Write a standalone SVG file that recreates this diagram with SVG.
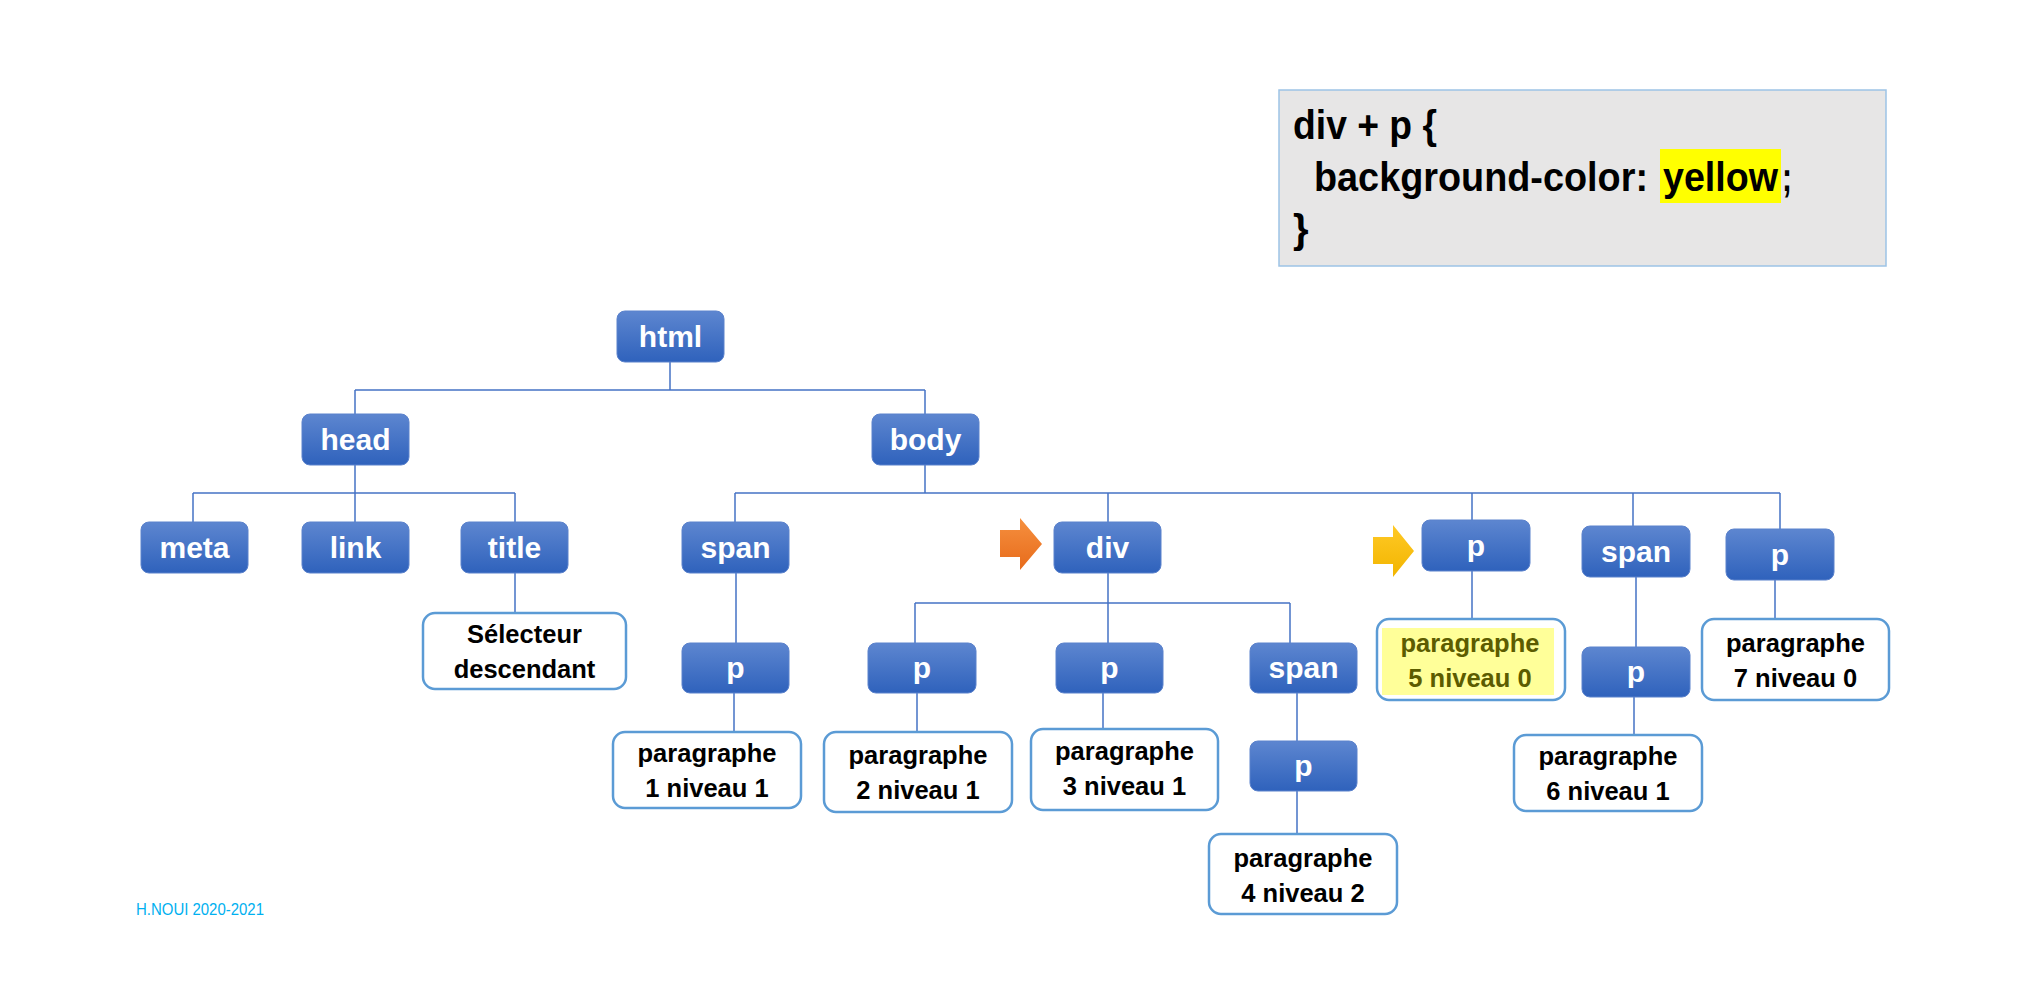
<svg xmlns="http://www.w3.org/2000/svg" width="2028" height="1000" viewBox="0 0 2028 1000">
<style>
.n rect{fill:url(#gb);stroke:#5b82cc;stroke-width:1}
.n text{font-family:"Liberation Sans",Arial,sans-serif;font-weight:bold;font-size:30px;fill:#fff;text-anchor:middle}
.b rect{fill:#fff;stroke:#5b9bd5;stroke-width:2.5}
.b text{font-family:"Liberation Sans",Arial,sans-serif;font-weight:bold;font-size:25.5px;fill:#000;text-anchor:middle}
.c{font-family:"Liberation Sans",Arial,sans-serif;font-weight:bold;font-size:40px;fill:#000}
#links line{stroke:#4472c4;stroke-width:1.5}
</style>
<defs>
<linearGradient id="gb" x1="0" y1="0" x2="0" y2="1">
<stop offset="0" stop-color="#5d86d0"/>
<stop offset="1" stop-color="#2f62bc"/>
</linearGradient>
<linearGradient id="go" x1="0" y1="0" x2="0" y2="1">
<stop offset="0" stop-color="#f6903f"/>
<stop offset="1" stop-color="#e76b1b"/>
</linearGradient>
<linearGradient id="gy" x1="0" y1="0" x2="0" y2="1">
<stop offset="0" stop-color="#ffc926"/>
<stop offset="1" stop-color="#f2b500"/>
</linearGradient>
</defs>
<rect width="2028" height="1000" fill="#fff"/>

<g id="code">
<rect x="1279" y="90" width="607" height="176" fill="#e7e6e6" stroke="#9dc3e6" stroke-width="1.5"/>
<rect x="1660" y="149" width="121" height="54" fill="#ffff00"/>
<text class="c" x="1293" y="139" textLength="144" lengthAdjust="spacingAndGlyphs">div + p {</text>
<text class="c" x="1314" y="191" textLength="334" lengthAdjust="spacingAndGlyphs">background-color:</text>
<text class="c" x="1663" y="191" textLength="115" lengthAdjust="spacingAndGlyphs">yellow</text>
<text class="c" x="1782" y="191" textLength="10" lengthAdjust="spacingAndGlyphs">;</text>
<text class="c" x="1293" y="243">}</text>
</g>

<g id="links">
<line x1="670" y1="362" x2="670" y2="390"/>
<line x1="355" y1="390" x2="925" y2="390"/>
<line x1="355" y1="390" x2="355" y2="414"/>
<line x1="925" y1="390" x2="925" y2="414"/>
<line x1="355" y1="465" x2="355" y2="493"/>
<line x1="193" y1="493" x2="515" y2="493"/>
<line x1="193" y1="493" x2="193" y2="522"/>
<line x1="355" y1="493" x2="355" y2="522"/>
<line x1="515" y1="493" x2="515" y2="522"/>
<line x1="515" y1="573" x2="515" y2="613"/>
<line x1="925" y1="465" x2="925" y2="493"/>
<line x1="735" y1="493" x2="1780" y2="493"/>
<line x1="735" y1="493" x2="735" y2="522"/>
<line x1="1108" y1="493" x2="1108" y2="522"/>
<line x1="1472" y1="493" x2="1472" y2="520"/>
<line x1="1633" y1="493" x2="1633" y2="526"/>
<line x1="1780" y1="493" x2="1780" y2="529"/>
<line x1="736" y1="573" x2="736" y2="643"/>
<line x1="734" y1="693" x2="734" y2="732"/>
<line x1="1108" y1="573" x2="1108" y2="603"/>
<line x1="915" y1="603" x2="1290" y2="603"/>
<line x1="915" y1="603" x2="915" y2="643"/>
<line x1="1108" y1="603" x2="1108" y2="643"/>
<line x1="1290" y1="603" x2="1290" y2="643"/>
<line x1="917" y1="693" x2="917" y2="732"/>
<line x1="1103" y1="693" x2="1103" y2="729"/>
<line x1="1297" y1="693" x2="1297" y2="741"/>
<line x1="1297" y1="791" x2="1297" y2="834"/>
<line x1="1472" y1="571" x2="1472" y2="619"/>
<line x1="1636" y1="577" x2="1636" y2="647"/>
<line x1="1634" y1="697" x2="1634" y2="735"/>
<line x1="1775" y1="580" x2="1775" y2="619"/>
</g>

<g id="arrows">
<polygon points="1000,530 1020,530 1020,518 1042,544 1020,570 1020,557 1000,557" fill="url(#go)"/>
<polygon points="1373,537 1393,537 1393,525 1414,551 1393,577 1393,564 1373,564" fill="url(#gy)"/>
</g>

<g id="n-html" class="n"><rect x="617" y="311" width="107" height="51" rx="8"/><text x="670.5" y="347">html</text></g>
<g id="n-head" class="n"><rect x="302" y="414" width="107" height="51" rx="8"/><text x="355.5" y="450">head</text></g>
<g id="n-body" class="n"><rect x="872" y="414" width="107" height="51" rx="8"/><text x="925.5" y="450">body</text></g>
<g id="n-meta" class="n"><rect x="141" y="522" width="107" height="51" rx="8"/><text x="194.5" y="558">meta</text></g>
<g id="n-link" class="n"><rect x="302" y="522" width="107" height="51" rx="8"/><text x="355.5" y="558">link</text></g>
<g id="n-title" class="n"><rect x="461" y="522" width="107" height="51" rx="8"/><text x="514.5" y="558">title</text></g>
<g id="n-span1" class="n"><rect x="682" y="522" width="107" height="51" rx="8"/><text x="735.5" y="558">span</text></g>
<g id="n-div" class="n"><rect x="1054" y="522" width="107" height="51" rx="8"/><text x="1107.5" y="558">div</text></g>
<g id="n-p5" class="n"><rect x="1422" y="520" width="108" height="51" rx="8"/><text x="1476" y="556">p</text></g>
<g id="n-span2" class="n"><rect x="1582" y="526" width="108" height="51" rx="8"/><text x="1636" y="562">span</text></g>
<g id="n-p7" class="n"><rect x="1726" y="529" width="108" height="51" rx="8"/><text x="1780" y="565">p</text></g>
<g id="n-p1" class="n"><rect x="682" y="643" width="107" height="50" rx="8"/><text x="735.5" y="678">p</text></g>
<g id="n-p2" class="n"><rect x="868" y="643" width="108" height="50" rx="8"/><text x="922" y="678">p</text></g>
<g id="n-p3" class="n"><rect x="1056" y="643" width="107" height="50" rx="8"/><text x="1109.5" y="678">p</text></g>
<g id="n-span3" class="n"><rect x="1250" y="643" width="107" height="50" rx="8"/><text x="1303.5" y="678">span</text></g>
<g id="n-p6" class="n"><rect x="1582" y="647" width="108" height="50" rx="8"/><text x="1636" y="682">p</text></g>
<g id="n-p4" class="n"><rect x="1250" y="741" width="107" height="50" rx="8"/><text x="1303.5" y="776">p</text></g>

<g id="b-sel" class="b"><rect x="423" y="613" width="203" height="76" rx="12"/><text x="524.5" y="643">Sélecteur</text><text x="524.5" y="678">descendant</text></g>
<g id="b-para1" class="b"><rect x="613" y="732" width="188" height="76" rx="12"/><text x="707" y="762">paragraphe</text><text x="707" y="797">1 niveau 1</text></g>
<g id="b-para2" class="b"><rect x="824" y="732" width="188" height="80" rx="12"/><text x="918" y="764">paragraphe</text><text x="918" y="799">2 niveau 1</text></g>
<g id="b-para3" class="b"><rect x="1031" y="729" width="187" height="81" rx="12"/><text x="1124.5" y="760">paragraphe</text><text x="1124.5" y="795">3 niveau 1</text></g>
<g id="b-para4" class="b"><rect x="1209" y="834" width="188" height="80" rx="12"/><text x="1303" y="867">paragraphe</text><text x="1303" y="902">4 niveau 2</text></g>
<g id="b-para5" class="b"><rect x="1377" y="619" width="188" height="81" rx="12"/><rect x="1382" y="628" width="172" height="67" style="fill:#ffff99;stroke:none"/><text x="1470" y="652" style="fill:#5c5c00">paragraphe</text><text x="1470" y="687" style="fill:#5c5c00">5 niveau 0</text></g>
<g id="b-para6" class="b"><rect x="1514" y="735" width="188" height="76" rx="12"/><text x="1608" y="765">paragraphe</text><text x="1608" y="800">6 niveau 1</text></g>
<g id="b-para7" class="b"><rect x="1702" y="619" width="187" height="81" rx="12"/><text x="1795.5" y="652">paragraphe</text><text x="1795.5" y="687">7 niveau 0</text></g>

<text x="136" y="915" font-family="'Liberation Sans',Arial,sans-serif" font-size="16px" fill="#00b0f0" textLength="128" lengthAdjust="spacingAndGlyphs">H.NOUI 2020-2021</text>
</svg>
